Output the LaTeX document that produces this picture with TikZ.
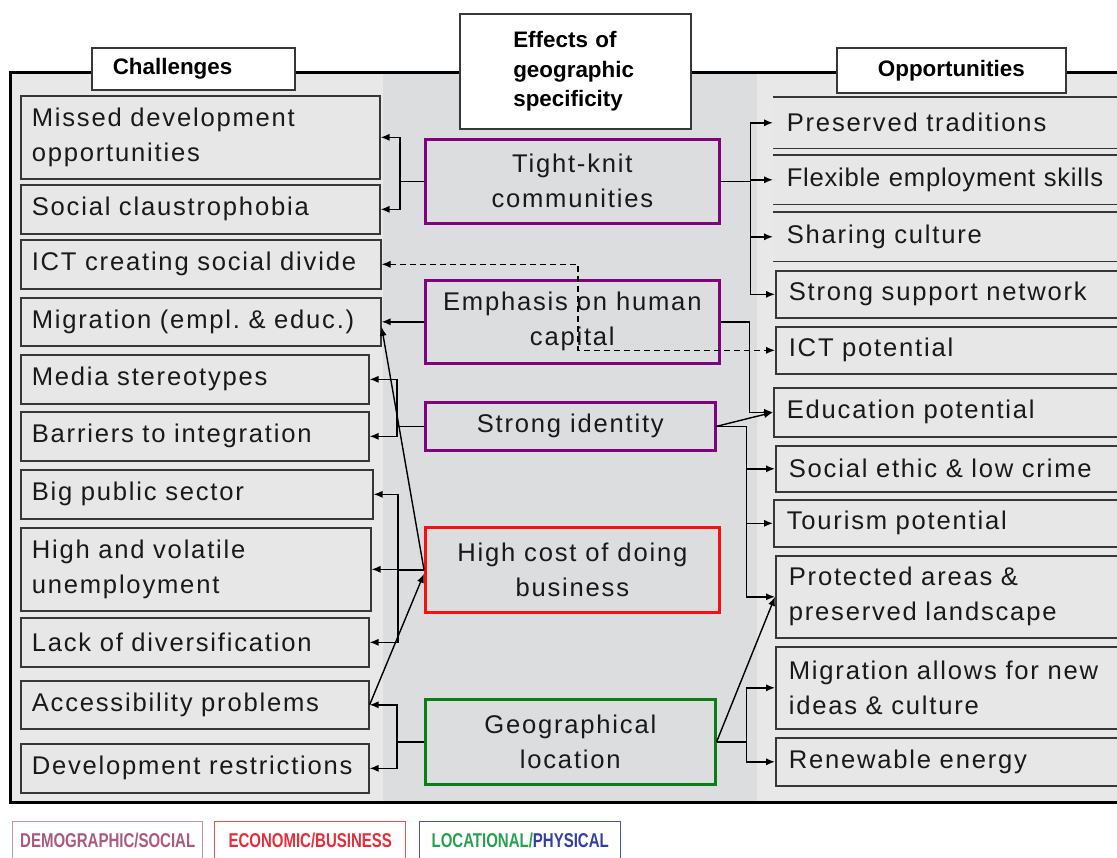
\documentclass[tikz,border=0pt]{standalone}
\usepackage{fontspec}
\setmainfont{Liberation Sans}
\newfontfamily\bodyfont[LetterSpace=7]{Liberation Sans}
\newfontfamily\legendfont[FakeStretch=0.75]{Liberation Sans}
\usepackage{tikz}
\usetikzlibrary{positioning,calc,arrows.meta}
\definecolor{PanelSide}{RGB}{231,232,231}
\definecolor{PanelMid}{RGB}{220,221,223}
\definecolor{BoxFill}{RGB}{230,231,230}
\definecolor{BoxLine}{RGB}{55,55,55}
\definecolor{SocPurple}{RGB}{128,0,128}
\definecolor{EconRed}{RGB}{250,15,15}
\definecolor{LocGreen}{RGB}{10,125,20}
\definecolor{DemoText}{RGB}{170,90,130}
\definecolor{DemoLine}{RGB}{195,145,170}
\definecolor{EconText}{RGB}{230,45,60}
\definecolor{EconLine}{RGB}{240,80,80}
\definecolor{LocText}{RGB}{40,160,80}
\definecolor{PhysText}{RGB}{50,65,160}
\definecolor{LocLine}{RGB}{70,85,165}
\tikzset{
	chal/.style={draw=BoxLine,fill=BoxFill,line width=0.8pt,anchor=north west,align=left,
		inner xsep=5.5pt,inner ysep=0pt,text=black!90,font=\bodyfont\fontsize{12.8pt}{17.5pt}\selectfont},
	opp/.style={chal,inner xsep=6.5pt,text width=170.5pt},
	oppbare/.style={opp,draw=none},
	effect/.style={draw=#1,line width=1.3pt,anchor=north west,align=center,inner sep=0pt,
		text=black!90,font=\bodyfont\fontsize{12.8pt}{17.5pt}\selectfont},
	heading/.style={draw=BoxLine,fill=white,line width=0.8pt,anchor=north west,inner ysep=0pt,
		font=\fontsize{11.2pt}{14.6pt}\selectfont\bfseries},
	legend/.style={draw=#1,line width=0.7pt,anchor=north west,minimum width=95pt,minimum height=19pt,
		inner sep=0pt,font=\legendfont\fontsize{10pt}{11pt}\selectfont\bfseries},
	link/.style={draw=black,line width=0.7pt,-{Latex[length=4.5pt,width=3.6pt]}},
	dlink/.style={draw=black,line width=0.6pt,dash pattern=on 3pt off 2pt,
		{Latex[length=4.5pt,width=3.6pt]}-{Latex[length=4.5pt,width=3.6pt]}},
}
\begin{document}
\begin{tikzpicture}[x=0.5pt,y=-0.5pt]
	\useasboundingbox (0,0) rectangle (1117,857);
	\fill[PanelSide] (10,72) rectangle (383,802);
	\fill[PanelMid] (383,72) rectangle (757,802);
	\fill[PanelSide] (757,72) rectangle (1140,802);
	\draw[line width=1.5pt] (1140,72) -- (10,72) -- (10,802) -- (1140,802);

	\node[heading,align=left,inner xsep=10.5pt,text width=80.5pt,minimum height=21pt] (chalt) at (91,47) {Challenges};
	\node[heading,align=left,inner xsep=26.75pt,text width=62pt,minimum height=57.5pt] (efft) at (459,13) {Effects of\\geographic\\specificity};
	\node[heading,align=center,inner xsep=0pt,minimum width=114.5pt,minimum height=22.5pt] (oppt) at (836,47) {Opportunities};

	\node[chal,text width=168.5pt,minimum height=41.5pt] (missed) at (20,95) {Missed development\\opportunities};
	\node[chal,text width=168.5pt,minimum height=24.5pt] (claus) at (20,184) {Social claustrophobia};
	\node[chal,text width=169pt,minimum height=24.5pt] (ictdiv) at (20,239) {ICT creating social divide};
	\node[chal,text width=169pt,minimum height=24pt] (migr) at (20,297) {Migration (empl.\ \& educ.)};
	\node[chal,text width=163pt,minimum height=24.5pt] (media) at (20,354) {Media stereotypes};
	\node[chal,text width=163pt,minimum height=24.5pt] (barr) at (20,411) {Barriers to integration};
	\node[chal,text width=165pt,minimum height=24.5pt] (bigpub) at (20,469) {Big public sector};
	\node[chal,text width=164pt,minimum height=41.5pt] (unemp) at (20,527) {High and volatile\\unemployment};
	\node[chal,text width=163pt,minimum height=24.5pt] (divers) at (20,617) {Lack of diversification};
	\node[chal,text width=163pt,minimum height=24pt] (access) at (20,680) {Accessibility problems};
	\node[chal,text width=163pt,minimum height=24.5pt] (devres) at (20,743) {Development restrictions};

	\node[effect=SocPurple,minimum width=147pt,minimum height=42pt] (tk) at (424,138) {Tight-knit\\communities};
	\node[effect=SocPurple,minimum width=147pt,minimum height=41.5pt] (ehc) at (424,279) {Emphasis on human\\capital};
	\node[effect=SocPurple,minimum width=145pt,minimum height=24pt] (si) at (424,401) {Strong identity};
	\node[effect=EconRed,minimum width=147pt,minimum height=42.5pt] (hc) at (424,526) {High cost of doing\\business};
	\node[effect=LocGreen,minimum width=145pt,minimum height=42.5pt] (gl) at (424,698) {Geographical\\location};

	\node[oppbare,minimum height=25pt] (pres) at (773,97) {Preserved traditions};
	\node[oppbare,minimum height=24pt] (flex) at (773,155) {\addfontfeature{LetterSpace=3}Flexible employment skills};
	\node[oppbare,minimum height=24pt] (share) at (773,212) {Sharing culture};
	\foreach \n in {pres,flex,share}
		\draw[BoxLine,line width=0.8pt] (\n.north west) -- (\n.north east) (\n.south west) -- (\n.south east);
	\node[opp,minimum height=23.5pt] (supp) at (775,270) {Strong support network};
	\node[opp,minimum height=23.5pt] (ictpot) at (775,326) {ICT potential};
	\node[opp,minimum height=24.5pt] (edu) at (773,387) {Education potential};
	\node[opp,minimum height=23pt] (ethic) at (775,445) {Social ethic \& low crime};
	\node[opp,minimum height=23.5pt] (tour) at (773,499) {Tourism potential};
	\node[opp,minimum height=41pt] (protect) at (775,555) {Protected areas \&\\preserved landscape};
	\node[opp,minimum height=41pt] (newid) at (775,646) {Migration allows for new\\ideas \& culture};
	\node[opp,minimum height=24pt] (renew) at (775,737) {Renewable energy};

	\coordinate (ictbend) at (578,300);

	\draw[link] (tk.west) -- ++(-24,0) |- (missed.east);
	\draw[link] (tk.west) -- ++(-24,0) |- (claus.east);
	\draw[link] (ehc.west) -- (ehc.west -| migr.east);
	\draw[link] (si.west) -- ++(-27,0) |- (media.east);
	\draw[link] (si.west) -- ++(-27,0) |- (barr.east);
	\foreach \t in {bigpub,unemp,divers}
		\draw[link] (hc.west) -- ++(-26,0) |- (\t.east);
	\draw[link] (gl.west) -- ++(-27,0) |- (access.east);
	\draw[link] (gl.west) -- ++(-27,0) |- (devres.east);
	\draw[link] (hc.west) -- ([yshift=-2.5pt]migr.east);
	\draw[link] (access.east) -- ([yshift=-2pt]hc.west);

	\foreach \t in {pres,flex,share,supp}
		\draw[link] (tk.east) -- ++(30,0) |- (\t.west);
	\draw[link] (ehc.east) -- ++(29,0) |- (edu.west);
	\draw[dlink] (ictdiv.east) -| (ictbend) |- (ictpot.west);
	\draw[link] (si.east) -- (edu.west);
	\foreach \t in {ethic,tour,protect}
		\draw[link] (si.east) -- ++(30,0) |- (\t.west);
	\foreach \t in {newid,renew}
		\draw[link] (gl.east) -- ++(30,0) |- (\t.west);
	\draw[link] (gl.east) -- (protect.west);

	\node[legend=DemoLine,text=DemoText] (demo) at (12,821) {DEMOGRAPHIC/SOCIAL};
	\node[legend=EconLine,text=EconText,minimum width=95.5pt] (econ) at (214,821) {ECONOMIC/BUSINESS};
	\node[legend=LocLine,minimum width=100.5pt] (loc) at (419,821) {\textcolor{LocText}{LOCATIONAL/}\textcolor{PhysText}{PHYSICAL}};
\end{tikzpicture}
\end{document}
